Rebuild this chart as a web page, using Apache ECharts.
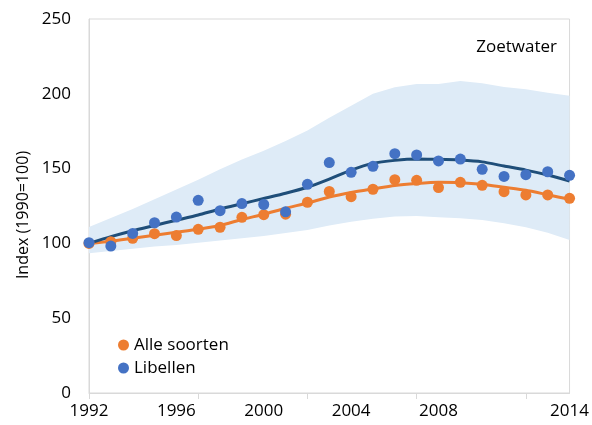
<!DOCTYPE html>
<html>
<head>
<meta charset="utf-8">
<script src="https://cdn.jsdelivr.net/npm/echarts@6/dist/echarts.min.js"></script>
<style>
html,body{margin:0;padding:0;background:#fff;}
#chart{width:592px;height:425px;}
</style>
</head>
<body>
<div id="chart"></div>
<script>
const years = ['1992','1993','1994','1995','1996','1997','1998','1999','2000','2001','2002','2003','2004','2005','2006','2007','2008','2009','2010','2011','2012','2013','2014'];
const xTickLabels = ['1992','1996','2000','2004','2008','2014'];
const alleSoorten = [100,101.1,103.4,106.5,105.2,109.4,110.8,117.4,119.2,119.5,127.5,134.7,131.2,136.2,142.6,142.2,137.3,140.8,138.8,134.6,132.4,132.4,130.1];
const libellen = [100.5,98.2,106.7,113.8,117.6,128.8,121.9,126.6,126,121.1,139.5,154,147.5,151.5,160,159.1,155.1,156.4,149.5,144.8,145.9,147.9,145.5];
const alleTrend = [100,101.5,103.5,105.5,107.5,109.5,112,116,119.5,123.5,127,131,134,136.4,138.7,140,140.8,140.6,139.5,137.5,135.5,132.5,129.5];
const libTrend = [100,104.5,108.5,112,115.5,119,123,126.5,130,133.5,137.5,143,149,153.5,155.5,156.4,156.2,155.7,154.5,151.7,149,145.7,141.7];
const bandLower = [93.4,95,96.5,98,99,100.5,102,103.5,105,107,109,112,114.5,116.5,117.9,118.3,117.4,116.8,115.6,113.4,110.8,107.2,102.3];
const bandUpper = [111,117,123,129.5,136,142.5,149.5,156,162,168.5,175.5,184,192,200,204.3,206.5,206.5,208.6,207,204.5,203,200.7,198.7];

const bandWidth = bandUpper.map((u, i) => +(u - bandLower[i]).toFixed(2));
const FONT = '"Open Sans", sans-serif';

const chart = echarts.init(document.getElementById('chart'), null, {renderer: 'canvas'});
chart.setOption({
  animation: false,
  backgroundColor: '#ffffff',
  textStyle: {fontFamily: FONT},
  title: {
    text: 'Zoetwater',
    right: 30, top: 34,
    textStyle: {fontFamily: FONT, fontSize: 17, fontWeight: 'normal', color: '#000'}
  },
  legend: {
    data: ['Alle soorten', 'Libellen'],
    orient: 'vertical',
    left: 113, top: 330,
    icon: 'circle',
    itemWidth: 11, itemHeight: 11,
    itemGap: 3,
    textStyle: {fontFamily: FONT, fontSize: 17, color: '#000', lineHeight: 20}
  },
  grid: {
    left: 89, right: 19, top: 19, bottom: 32,
    show: true, borderColor: '#d9d9d9', borderWidth: 1
  },
  xAxis: {
    type: 'category',
    data: years,
    boundaryGap: false,
    axisLine: {lineStyle: {color: '#d9d9d9', width: 1}},
    axisTick: {show: true, length: 6, lineStyle: {color: '#d9d9d9'}, interval: (i) => i % 5 === 0},
    axisLabel: {
      interval: (i, v) => xTickLabels.indexOf(v) >= 0,
      fontFamily: FONT, fontSize: 17, color: '#000', margin: 10
    },
    splitLine: {show: false}
  },
  yAxis: {
    type: 'value',
    min: 0, max: 250, interval: 50,
    name: 'Index (1990=100)',
    nameLocation: 'middle',
    nameGap: 52,
    nameTextStyle: {fontFamily: FONT, fontSize: 16, color: '#000', padding: [0, 0, 0, -18]},
    axisLine: {show: true, lineStyle: {color: '#d9d9d9'}},
    axisTick: {show: false},
    axisLabel: {fontFamily: FONT, fontSize: 17, color: '#000', margin: 18},
    splitLine: {show: false}
  },
  series: [
    {
      name: 'bandLower', type: 'line', data: bandLower, stack: 'band',
      symbol: 'none', lineStyle: {opacity: 0}, silent: true, z: 1
    },
    {
      name: 'band', type: 'line', data: bandWidth, stack: 'band',
      symbol: 'none', lineStyle: {opacity: 0},
      areaStyle: {color: '#deebf7', opacity: 1}, silent: true, z: 1
    },
    {
      name: 'Alle trend', type: 'line', data: alleTrend, symbol: 'none',
      smooth: 0.2, lineStyle: {color: '#ed7d31', width: 3}, z: 3
    },
    {
      name: 'Libellen trend', type: 'line', data: libTrend, symbol: 'none',
      smooth: 0.2, lineStyle: {color: '#1f4e79', width: 3}, z: 3
    },
    {
      name: 'Alle soorten', type: 'scatter', data: alleSoorten,
      symbol: 'circle', symbolSize: 11, itemStyle: {color: '#ed7d31', opacity: 1}, z: 4
    },
    {
      name: 'Libellen', type: 'scatter', data: libellen,
      symbol: 'circle', symbolSize: 11, itemStyle: {color: '#4472c4', opacity: 1}, z: 5
    }
  ]
});
</script>
</body>
</html>
